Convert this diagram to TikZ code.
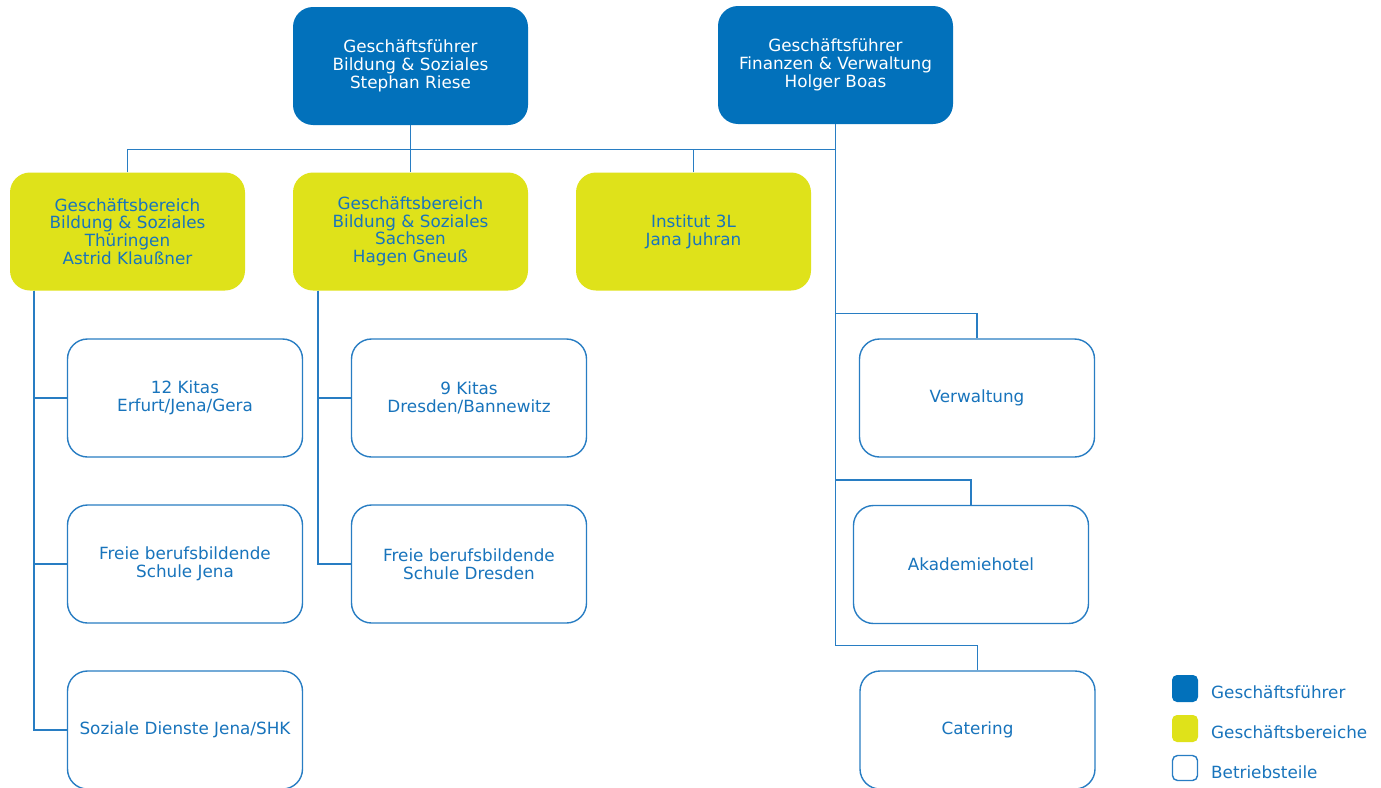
\documentclass[tikz,border=0pt]{standalone}
\usepackage{fontspec}
\setmainfont{DejaVu Sans}
\definecolor{gfblue}{RGB}{2,113,187}
\definecolor{gbyellow}{RGB}{223,226,26}
\definecolor{tblue}{RGB}{24,116,188}
\definecolor{lblue}{RGB}{40,125,195}
\begin{document}
\begin{tikzpicture}[x=1pt,y=-1pt,
  base/.style={rounded corners=20pt, minimum width=235pt, minimum height=118pt, align=center, inner sep=0pt,
     font=\fontsize{16.8pt}{17.7pt}\selectfont},
  gfbox/.style={base, fill=gfblue, text=white},
  gbbox/.style={base, fill=gbyellow, text=tblue},
  btbox/.style={base, draw=lblue, line width=1.4pt, fill=white, text=tblue},
  conn/.style={draw=lblue, line width=1.4pt},
  legtext/.style={anchor=west, text=tblue, inner sep=0pt, font=\fontsize{16.8pt}{17.7pt}\selectfont}]
\useasboundingbox (0,0) rectangle (1381,787);
\clip (0,0) rectangle (1381,787);
\fill[white] (0,0) rectangle (1381,787);
% Geschaeftsfuehrer
\node[gfbox] (gf1) at (410.5,66) {Geschäftsführer\\Bildung \& Soziales\\Stephan Riese};
\node[gfbox] (gf2) at (835.5,65) {Geschäftsführer\\Finanzen \& Verwaltung\\Holger Boas};
% Geschaeftsbereiche
\node[gbbox] (gb1) at (127.5,231.5) {Geschäftsbereich\\Bildung \& Soziales\\Thüringen\\Astrid Klaußner};
\node[gbbox] (gb2) at (410.5,231.5) {Geschäftsbereich\\Bildung \& Soziales\\Sachsen\\Hagen Gneuß};
\node[gbbox] (inst) at (693.5,231.5) {Institut 3L\\Jana Juhran};
% Betriebsteile links
\node[btbox] (kita1) at (185,398) {12 Kitas\\Erfurt/Jena/Gera};
\node[btbox] (fbs1) at (185,564) {Freie berufsbildende\\Schule Jena};
\node[btbox] (soz) at (185,730) {Soziale Dienste Jena/SHK};
% Betriebsteile Mitte
\node[btbox] (kita2) at (469,398) {9 Kitas\\Dresden/Bannewitz};
\node[btbox] (fbs2) at (469,564) {Freie berufsbildende\\Schule Dresden};
% Betriebsteile rechts
\node[btbox] (verw) at (977,398) {Verwaltung};
\node[btbox] (akad) at (971,564.5) {Akademiehotel};
\node[btbox] (cat) at (977.5,730) {Catering};
% connectors top
\draw[conn] (gb1.north) -- ++(0,-23) -| (gf2.south);
\draw[conn] (gf1.south) -- (gb2.north);
\draw[conn] (inst.north) -- ++(0,-23);
% right column
\draw[conn] (verw.north) -- ++(0,-25) -| (gf2.south);
\draw[conn] (akad.north) -- ++(0,-25) -| (gf2.south);
\draw[conn] (cat.north) -- ++(0,-25) -| (gf2.south);
% left column
\draw[conn] ([xshift=24pt]gb1.south west) |- (soz.west);
\draw[conn] ([xshift=24pt]gb1.south west) |- (kita1.west);
\draw[conn] ([xshift=24pt]gb1.south west) |- (fbs1.west);
% middle column
\draw[conn] ([xshift=25pt]gb2.south west) |- (fbs2.west);
\draw[conn] ([xshift=25pt]gb2.south west) |- (kita2.west);
% legend
\node[rounded corners=5pt, fill=gfblue, minimum width=26pt, minimum height=27pt, inner sep=0pt] (lg1) at (1185,688.5) {};
\node[rounded corners=5pt, fill=gbyellow, minimum width=26pt, minimum height=27pt, inner sep=0pt] (lg2) at (1185,728.5) {};
\node[rounded corners=5pt, draw=lblue, line width=1.4pt, fill=white, minimum width=25pt, minimum height=25pt, inner sep=0pt] (lg3) at (1185,768) {};
\node[legtext] (lt1) at (1211,692) {Geschäftsführer};
\node[legtext] (lt2) at (1211,732) {Geschäftsbereiche};
\node[legtext] (lt3) at (1211,772) {Betriebsteile};
\end{tikzpicture}
\end{document}
